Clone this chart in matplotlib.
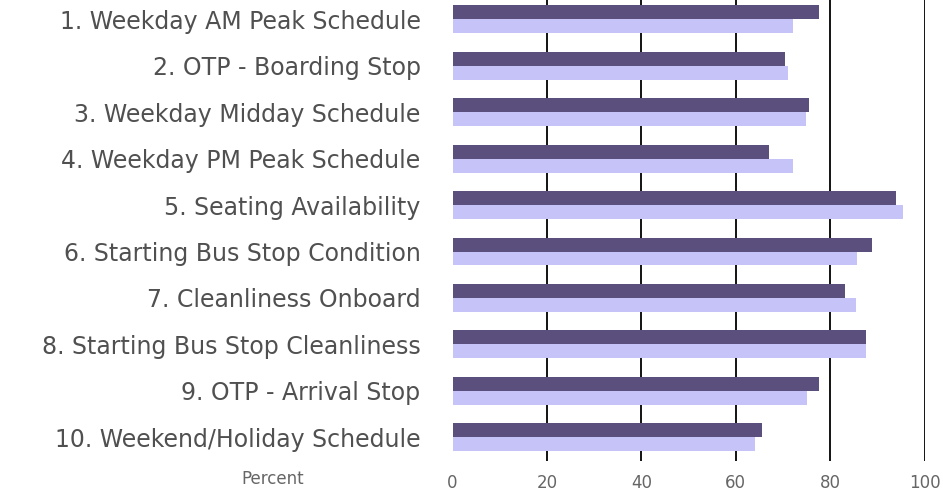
import matplotlib.pyplot as plt
import numpy as np

categories = [
    "1. Weekday AM Peak Schedule",
    "2. OTP - Boarding Stop",
    "3. Weekday Midday Schedule",
    "4. Weekday PM Peak Schedule",
    "5. Seating Availability",
    "6. Starting Bus Stop Condition",
    "7. Cleanliness Onboard",
    "8. Starting Bus Stop Cleanliness",
    "9. OTP - Arrival Stop",
    "10. Weekend/Holiday Schedule",
]
dark_values = [77.7, 70.4, 75.5, 67.1, 93.9, 88.8, 83.2, 87.6, 77.7, 65.5]
light_values = [72.1, 71.1, 74.9, 72.1, 95.5, 85.6, 85.5, 87.6, 75.0, 64.1]
xticks = [0, 20, 40, 60, 80, 100]

dark_color = "#5b4f7d"
light_color = "#c5c3f8"
text_color = "#505050"

fig = plt.figure(figsize=(9.43, 4.92), dpi=100)
ax = fig.add_axes([0.4799, 0.064, 0.5007, 0.944])

y = np.arange(len(categories))
h = 0.30
ax.barh(y - h / 2, dark_values, height=h, color=dark_color, zorder=2)
ax.barh(y + h / 2, light_values, height=h, color=light_color, zorder=2)

ax.set_xlim(0, 100)
ax.set_ylim(len(categories) - 0.5, -0.5)
ax.set_xticks(xticks)
ax.set_xticklabels([str(v) for v in xticks], fontsize=12, color="#666666", family="DejaVu Sans")
ax.set_yticks(y)
ax.set_yticklabels(categories, fontsize=17, color=text_color, family="DejaVu Sans")
ax.tick_params(axis="both", length=0)
ax.tick_params(axis="x", pad=10)
ax.tick_params(axis="y", pad=23)

for v in xticks[1:]:
    ax.axvline(v, color="black", lw=1.3, zorder=1)

for s in ax.spines.values():
    s.set_visible(False)

fig.text(273 / 943, 1 - 479 / 492, "Percent", ha="center", va="center",
         fontsize=12, color="#666666", family="DejaVu Sans")

fig.savefig("out.png", dpi=100)
